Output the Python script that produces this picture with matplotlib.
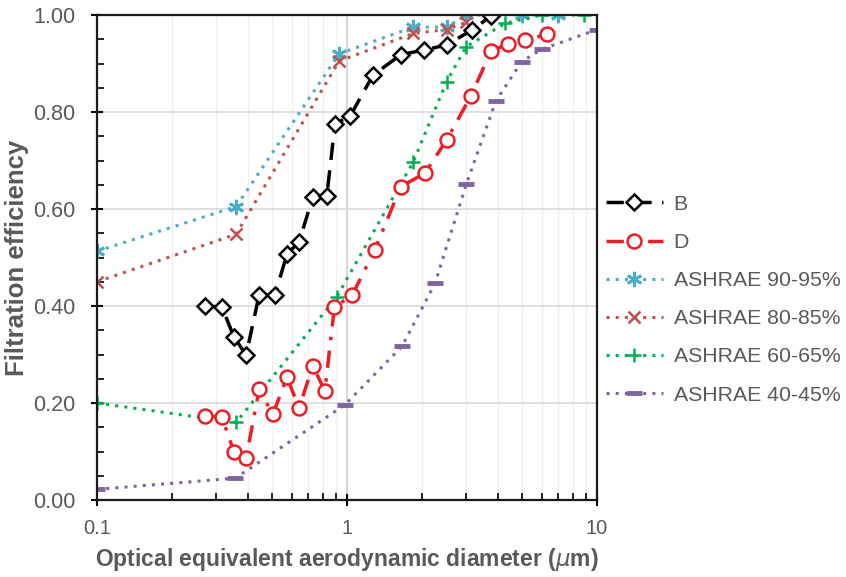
import numpy as np
import matplotlib
matplotlib.use("Agg")
import matplotlib.pyplot as plt
from matplotlib.ticker import FixedLocator, FixedFormatter, MultipleLocator, LogLocator, NullFormatter


# Data -------------------------------------------------------------------

B_X = [0.27, 0.316, 0.353, 0.395, 0.445, 0.515, 0.575, 0.643, 0.73, 0.83,
       0.895, 1.03, 1.27, 1.64, 2.03, 2.5, 3.16, 3.77]
B_Y = [0.40, 0.398, 0.336, 0.299, 0.423, 0.423, 0.507, 0.532, 0.625, 0.627,
       0.775, 0.792, 0.876, 0.918, 0.928, 0.938, 0.969, 0.998]

D_X = [0.27, 0.316, 0.353, 0.395, 0.445, 0.505, 0.575, 0.643, 0.73, 0.815,
       0.89, 1.05, 1.29, 1.64, 2.05, 2.5, 3.13, 3.77, 4.4, 5.15, 6.3]
D_Y = [0.173, 0.171, 0.099, 0.087, 0.228, 0.177, 0.253, 0.19, 0.277, 0.225,
       0.397, 0.423, 0.515, 0.646, 0.674, 0.742, 0.833, 0.926, 0.94, 0.948, 0.96]

A90_X = [0.1, 0.36, 0.93, 1.84, 2.5, 3.0, 5.0, 7.0]
A90_Y = [0.513, 0.605, 0.92, 0.975, 0.975, 1.0, 1.0, 1.0]

A80_X = [0.1, 0.36, 0.93, 1.84, 2.5, 3.0]
A80_Y = [0.45, 0.548, 0.905, 0.962, 0.97, 0.985]

A60_X = [0.1, 0.36, 0.91, 1.84, 2.5, 3.0, 4.3, 6.0, 8.9]
A60_Y = [0.20, 0.16, 0.419, 0.697, 0.862, 0.935, 0.983, 1.0, 1.0]

A40_X = [0.1, 0.357, 0.98, 1.66, 2.25, 3.0, 3.94, 5.0, 6.0, 10.0]
A40_Y = [0.022, 0.045, 0.196, 0.317, 0.447, 0.651, 0.823, 0.904, 0.929, 0.97]

Labels = ["B", "D", "ASHRAE 90-95%", "ASHRAE 80-85%", "ASHRAE 60-65%", "ASHRAE 40-45%"]


# Plotting ---------------------------------------------------------------

plt.rcParams["font.family"] = ["Liberation Sans", "DejaVu Sans"]

Gray = "#595959"

fig = plt.figure(figsize=(8.46, 5.77), dpi=100)
ax = fig.add_axes([0.1147, 0.1334, 0.591, 0.8406])

ax.plot(A90_X, A90_Y, linestyle=(0, (1, 2)), lw=2.2, color="#4bacc6",
        marker=(6, 2, 0), ms=11, mew=2, label=Labels[2])
ax.plot(A80_X, A80_Y, linestyle=(0, (1, 2)), lw=2.2, color="#c0504d",
        marker="x", ms=9, mew=1.8, label=Labels[3])
ax.plot(A60_X, A60_Y, linestyle=(0, (1, 2)), lw=2.2, color="#00b050",
        marker="+", ms=10, mew=1.8, label=Labels[4])
ax.plot(A40_X, A40_Y, linestyle=(0, (1, 2)), lw=2.2, color="#8064a2",
        marker="_", ms=11, mew=3.5, label=Labels[5])

ax.plot(B_X, B_Y, linestyle=(0, (5, 3)), lw=2.5, color="black",
        marker="D", ms=8.5, mfc="white", mec="black", mew=1.8, label=Labels[0])
ax.plot(D_X, D_Y, linestyle=(0, (5, 3, 1, 3)), lw=2.5, color="#ee1c25",
        marker="o", ms=10, mfc="white", mec="#ee1c25", mew=1.8, label=Labels[1])

ax.set_xscale("log")
ax.set_xlim(0.1, 10)
ax.set_ylim(0, 1)

ax.xaxis.set_major_locator(FixedLocator([0.1, 1, 10]))
ax.xaxis.set_major_formatter(FixedFormatter(["0.1", "1", "10"]))
ax.xaxis.set_minor_locator(LogLocator(base=10, subs=np.arange(2, 10)))
ax.xaxis.set_minor_formatter(NullFormatter())

ax.yaxis.set_major_locator(MultipleLocator(0.2))
ax.yaxis.set_minor_locator(MultipleLocator(0.05))
ax.yaxis.set_major_formatter(lambda v, p: f"{v:.2f}")

ax.tick_params(which="major", direction="inout", length=9, width=1.5, labelcolor=Gray)
ax.tick_params(which="minor", direction="in", length=5, width=1.2)
ax.tick_params(axis="x", which="major", labelsize=14.5, pad=9)
ax.tick_params(axis="y", which="major", labelsize=15.5, pad=11)

ax.grid(which="major", axis="y", color="#d9d9d9", lw=1.2)
ax.grid(which="major", axis="x", color="#d0d0d0", lw=1.2)
ax.grid(which="minor", axis="x", color="#efefef", lw=0.9)
ax.set_axisbelow(True)

for Side in ["left", "right", "top", "bottom"]:
    ax.spines[Side].set_linewidth(1.6)
    ax.spines[Side].set_color("#1a1a1a")

ax.set_ylabel("Filtration efficiency", fontsize=18.5, fontweight="bold", color=Gray, labelpad=3)
ax.set_xlabel("Optical equivalent aerodynamic diameter ($\\mu$m)", fontsize=16.5,
              fontweight="bold", color=Gray, labelpad=6)

Handles, Names = ax.get_legend_handles_labels()
Order = [Names.index(n) for n in Labels]
ax.legend([Handles[i] for i in Order], [Names[i] for i in Order],
          loc="center left", bbox_to_anchor=(1.0, 0.413), frameon=False,
          fontsize=15.3, labelcolor=Gray, handlelength=2.7, handletextpad=0.5,
          labelspacing=0.9, borderaxespad=0.2, borderpad=0.2)

plt.savefig("out.png", dpi=100)
